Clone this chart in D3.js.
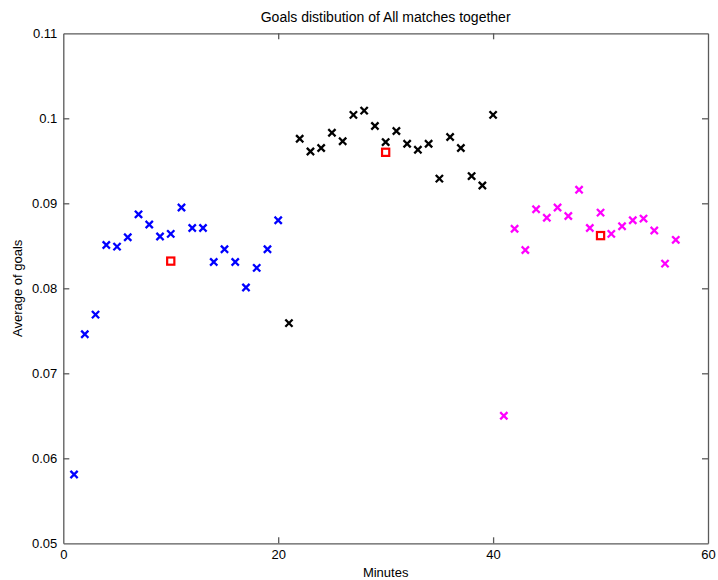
<!DOCTYPE html>
<html>
<head>
<meta charset="utf-8">
<script src="https://cdn.jsdelivr.net/npm/d3@7"></script>
<style>
  html, body { margin: 0; padding: 0; background: #fff; }
  svg { display: block; font-family: "Liberation Sans", Arial, sans-serif; }
</style>
</head>
<body>
<svg id="chart" width="718" height="580"></svg>
<script>
// Average goals per minute, three thirds of the match
const firstMinutes = d3.range(1, 21);
const firstGoals = [0.0581, 0.0746, 0.0769, 0.0851, 0.0849, 0.0860, 0.0887, 0.0875, 0.0861, 0.0864,
                    0.0895, 0.0871, 0.0871, 0.0831, 0.0846, 0.0831, 0.0801, 0.0824, 0.0846, 0.0880];
const secondMinutes = d3.range(21, 41);
const secondGoals = [0.0759, 0.0976, 0.0961, 0.0965, 0.0983, 0.0973, 0.1004, 0.1009, 0.0991, 0.0972,
                     0.0985, 0.0970, 0.0963, 0.0970, 0.0929, 0.0978, 0.0965, 0.0932, 0.0921, 0.1004];
const thirdMinutes = d3.range(41, 58);
const thirdGoals = [0.0650, 0.0870, 0.0845, 0.0893, 0.0883, 0.0895, 0.0885, 0.0916, 0.0871, 0.0889,
                    0.0864, 0.0873, 0.0880, 0.0882, 0.0868, 0.0829, 0.0857];
// Mean of each third, plotted at its centre minute
const meanMinutes = [10, 30, 50];
const meanGoals = [0.0832, 0.0960, 0.0862];

const xTicks = [0, 20, 40, 60];
const yTicks = [0.05, 0.06, 0.07, 0.08, 0.09, 0.10, 0.11];

const svg = d3.select("#chart");
const plotLeft = 63.3, plotRight = 708, plotTop = 33.3, plotBottom = 543.3;

const x = d3.scaleLinear().domain([0, 60]).range([plotLeft, plotRight]);
const y = d3.scaleLinear().domain([0.05, 0.11]).range([plotBottom, plotTop]);

const axisColor = "#5a5a5a";
const tickLen = 6;
const fmtY = d => String(+d.toFixed(2));

// Axes: inward ticks on all four sides (boxed frame)
const gBottom = svg.append("g").attr("transform", `translate(0,${plotBottom})`)
  .call(d3.axisBottom(x).tickValues(xTicks).tickSizeInner(-tickLen).tickSizeOuter(0).tickPadding(6).tickFormat(d3.format("d")));
const gTop = svg.append("g").attr("transform", `translate(0,${plotTop})`)
  .call(d3.axisTop(x).tickValues(xTicks).tickSizeInner(-tickLen).tickSizeOuter(0).tickFormat(""));
const gLeft = svg.append("g").attr("transform", `translate(${plotLeft},0)`)
  .call(d3.axisLeft(y).tickValues(yTicks).tickSizeInner(-tickLen).tickSizeOuter(0).tickPadding(6).tickFormat(fmtY));
const gRight = svg.append("g").attr("transform", `translate(${plotRight},0)`)
  .call(d3.axisRight(y).tickValues(yTicks).tickSizeInner(-tickLen).tickSizeOuter(0).tickFormat(""));

[gBottom, gTop, gLeft, gRight].forEach(g => {
  g.select(".domain").attr("stroke", axisColor).attr("stroke-width", 1.3);
  g.selectAll(".tick line").attr("stroke", axisColor).attr("stroke-width", 1.3);
  g.selectAll(".tick text").attr("fill", "#000").attr("font-size", 13)
    .attr("font-family", "'Liberation Sans', Arial, sans-serif");
});
// drop edge ticks that coincide with frame lines
gBottom.selectAll(".tick line").filter(d => d === 0 || d === 60).remove();
gTop.selectAll(".tick line").filter(d => d === 0 || d === 60).remove();
gLeft.selectAll(".tick line").filter(d => d === 0.05 || d === 0.11).remove();
gRight.selectAll(".tick line").filter(d => d === 0.05 || d === 0.11).remove();

// Cross markers
function crosses(minutes, goals, color) {
  const s = 2.8;
  const g = svg.append("g").attr("stroke", color).attr("stroke-width", 2.3).attr("stroke-linecap", "square");
  minutes.forEach((m, i) => {
    const cx = x(m), cy = y(goals[i]);
    g.append("path").attr("d", `M${cx - s},${cy - s}L${cx + s},${cy + s}M${cx - s},${cy + s}L${cx + s},${cy - s}`);
  });
}
crosses(firstMinutes, firstGoals, "#0000ff");
crosses(secondMinutes, secondGoals, "#000000");
crosses(thirdMinutes, thirdGoals, "#ff00ff");

// Mean markers
svg.append("g").selectAll("rect").data(meanMinutes).join("rect")
  .attr("x", d => x(d) - 3.6)
  .attr("y", (d, i) => y(meanGoals[i]) - 3.6)
  .attr("width", 7.2).attr("height", 7.2)
  .attr("fill", "none").attr("stroke", "#ff0000").attr("stroke-width", 2.2);

// Title and axis labels
svg.append("text").attr("x", (plotLeft + plotRight) / 2).attr("y", 22)
  .attr("text-anchor", "middle").attr("font-size", 14).text("Goals distibution of All matches together");
svg.append("text").attr("x", (plotLeft + plotRight) / 2).attr("y", 577)
  .attr("text-anchor", "middle").attr("font-size", 13).text("Minutes");
svg.append("text").attr("transform", `translate(22,${(plotTop + plotBottom) / 2}) rotate(-90)`)
  .attr("text-anchor", "middle").attr("font-size", 13).text("Average of goals");
</script>
</body>
</html>
